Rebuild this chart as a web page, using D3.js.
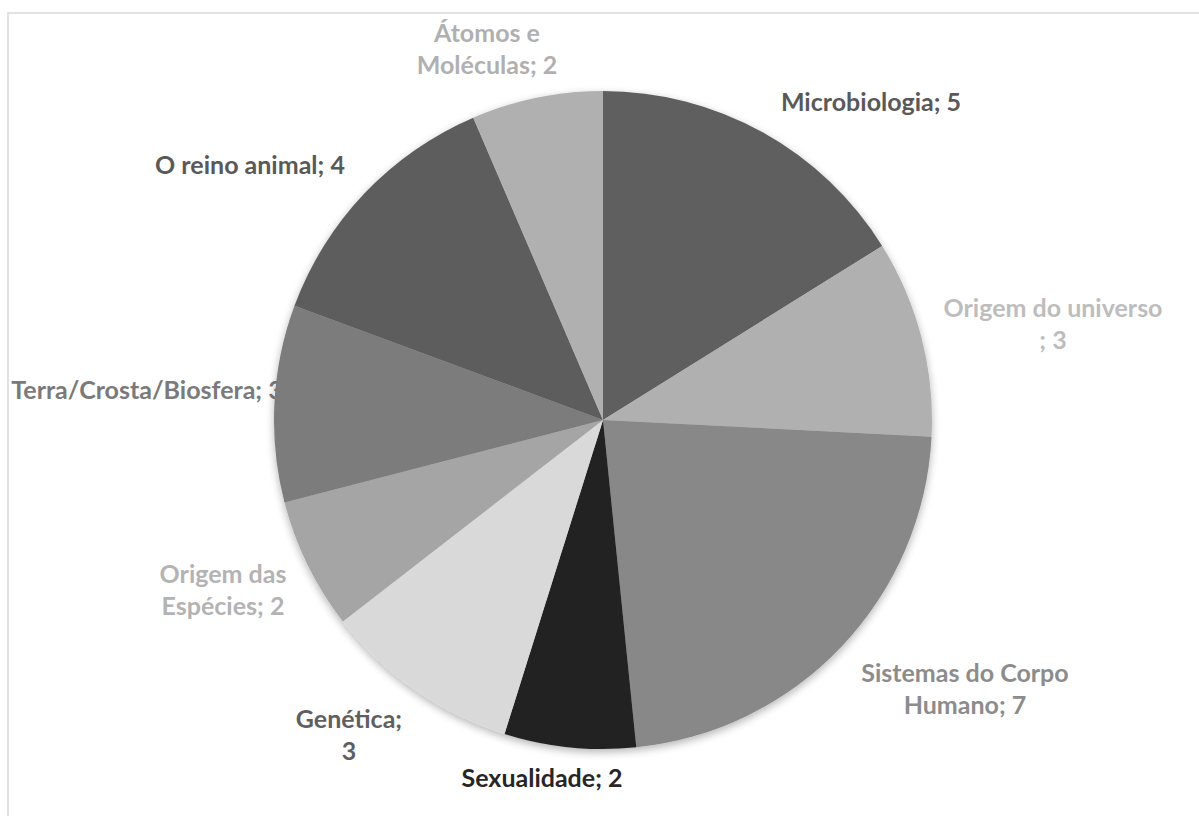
<!DOCTYPE html>
<html>
<head>
<meta charset="utf-8">
<script src="https://cdn.jsdelivr.net/npm/d3@7"></script>
<style>
  html, body { margin: 0; padding: 0; background: #fff; }
  svg { display: block; }
</style>
</head>
<body>
<svg id="chart" width="1199" height="816"></svg>
<script>
// Topics covered and how many activities fall into each
const categories = [
  "Microbiologia",
  "Origem do universo",
  "Sistemas do Corpo Humano",
  "Sexualidade",
  "Genética",
  "Origem das Espécies",
  "Terra/Crosta/Biosfera",
  "O reino animal",
  "Átomos e Moléculas"
];
const values = [5, 3, 7, 2, 3, 2, 3, 4, 2];

// Slice fills and label colours (grey palette)
const sliceColors = ["#5f5f5f", "#b0b0b0", "#888888", "#232323", "#d9d9d9", "#a5a5a5", "#7b7b7b", "#5d5d5d", "#b0b0b0"];
const labelColors = ["#595959", "#bdbdbd", "#8c8c8c", "#262626", "#5f5f5f", "#b3b3b3", "#7a7a7a", "#595959", "#b0b0b0"];

// Label text broken into lines, and where each label block is centred (offset from pie centre)
const labelLines = [
  ["Microbiologia; 5"],
  ["Origem do universo", "; 3"],
  ["Sistemas do Corpo", "Humano; 7"],
  ["Sexualidade; 2"],
  ["Genética;", "3"],
  ["Origem das", "Espécies; 2"],
  ["Terra/Crosta/Biosfera; 3"],
  ["O reino animal; 4"],
  ["Átomos e", "Moléculas; 2"]
];
const labelOffsets = [
  [268, -318], [450, -96], [362, 269], [-61, 358], [-254, 315],
  [-380, 170], [-456, -30], [-353, -255], [-116, -371]
];

const W = 1199, H = 816;
const cx = 603, cy = 420, radius = 329;
const svg = d3.select("#chart");

// Chart area frame
svg.append("rect")
  .attr("x", 8).attr("y", 13)
  .attr("width", W + 20).attr("height", H + 20)
  .attr("fill", "none")
  .attr("stroke", "#d9d9d9")
  .attr("stroke-width", 1.5);

const defs = svg.append("defs");
const shadow = defs.append("filter").attr("id", "pieShadow")
  .attr("x", "-10%").attr("y", "-10%").attr("width", "120%").attr("height", "120%");
shadow.append("feGaussianBlur").attr("in", "SourceAlpha").attr("stdDeviation", 4).attr("result", "b");
shadow.append("feOffset").attr("in", "b").attr("dx", 0).attr("dy", 3).attr("result", "o");
shadow.append("feComponentTransfer").attr("in", "o").attr("result", "s")
  .append("feFuncA").attr("type", "linear").attr("slope", 0.3);
const merge = shadow.append("feMerge");
merge.append("feMergeNode").attr("in", "s");
merge.append("feMergeNode").attr("in", "SourceGraphic");

const pie = d3.pie().sort(null).value(d => d)(values);
const arc = d3.arc().innerRadius(0).outerRadius(radius);

// Labels (drawn beneath the pie, so the pie overlaps any that collide)
const lineH = 32.5;
const labels = svg.append("g")
  .attr("font-family", "Lato, sans-serif")
  .attr("font-weight", "bold")
  .attr("font-size", 25)
  .attr("text-anchor", "middle");

categories.forEach((c, i) => {
  const lines = labelLines[i];
  const [ox, oy] = labelOffsets[i];
  const t = labels.append("text")
    .attr("fill", labelColors[i])
    .attr("x", cx + ox)
    .attr("y", cy + oy - (lines.length - 1) * lineH / 2);
  lines.forEach((ln, j) => {
    t.append("tspan")
      .attr("x", cx + ox)
      .attr("dy", j === 0 ? "0.35em" : lineH)
      .text(ln);
  });
});

// Pie slices
const g = svg.append("g")
  .attr("transform", `translate(${cx},${cy})`)
  .attr("filter", "url(#pieShadow)");

g.selectAll("path")
  .data(pie)
  .join("path")
  .attr("d", arc)
  .attr("fill", (d, i) => sliceColors[i]);
</script>
</body>
</html>
